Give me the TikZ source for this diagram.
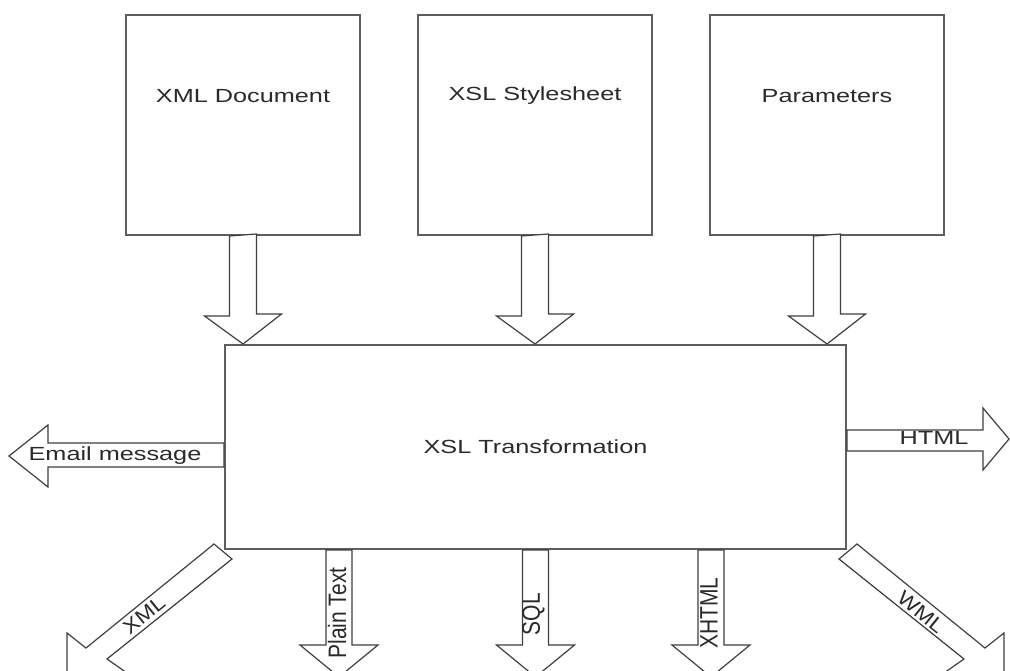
\documentclass[tikz,border=0pt]{standalone}
\usepackage{fontspec}
\setmainfont{Liberation Sans}
\usetikzlibrary{calc}
\definecolor{boxline}{HTML}{5E5E5E}
\definecolor{arrline}{HTML}{404040}
\definecolor{txt}{HTML}{2A2A2A}
\newcommand\myhs[1]{\scalebox{1.33}[1]{#1}}
\newcommand\myvs[1]{\scalebox{1}[1.2]{#1}}
\begin{document}
\begin{tikzpicture}[x=1pt,y=-1pt,
  box/.style={draw=boxline, line width=2pt, fill=white, inner sep=0pt},
  blk/.style={draw=arrline, line width=1.2pt, fill=white, line join=miter},
  lbl/.style={text=txt, font=\fontsize{19}{22}\selectfont, inner sep=0pt},
  vlbl/.style={text=txt, font=\fontsize{21}{24}\selectfont, inner sep=0pt, rotate=90},
  dlbl/.style={text=txt, font=\fontsize{20}{24}\selectfont, inner sep=0pt}]
\useasboundingbox (0,0) rectangle (1010,671);
\clip (0,0) rectangle (1010,671);
\fill[white] (0,0) rectangle (1010,671);

% boxes
\node[box, minimum width=234pt, minimum height=220pt] (xml) at (243,125) {};
\node[box, minimum width=234pt, minimum height=220pt] (xsl) at (535,125) {};
\node[box, minimum width=234pt, minimum height=220pt] (par) at (827,125) {};
\node[box, minimum width=621pt, minimum height=204pt] (main) at (535.5,447) {};

\node[lbl] (xmlt) at ($(xml.north)+(0,82)$) {\myhs{XML Document}};
\node[lbl] (xslt) at ($(xsl.north)+(0,82)$) {\myhs{XSL Stylesheet}};
\node[lbl] (part) at ($(par.north)+(0,82)$) {\myhs{Parameters}};
\node[lbl] (maint) at (main.center) {\myhs{XSL Transformation}};

% input arrows
\foreach \b in {xml,xsl,par}{
  \draw[blk] ($(\b.south)+(-13.5,0)$) -- ++(0,80) -- ++(-25,0)
    -- (\b.south |- main.north) -- ++(38.5,-30) -- ++(-25,0) -- ++(0,-80) -- cycle;
}

% left: Email message
\draw[blk] ($(main.west)+(0,-4)$) -- ++(-176,0) -- ++(0,-18) -- ++(-39,31)
  -- ++(39,31) -- ++(0,-20) -- ++(176,0) -- cycle;
\node[lbl] (emt) at ($(main.west)+(-109,9)$) {\myhs{Email message}};

% right: HTML
\draw[blk] ($(main.east)+(0,-17)$) -- ++(136,0) -- ++(0,-22) -- ++(26,31)
  -- ++(-26,31) -- ++(0,-19) -- ++(-136,0) -- cycle;
\node[lbl] (htt) at ($(main.east)+(87,-9)$) {\myhs{HTML}};

% bottom vertical arrows
\coordinate (ptS) at ($(main.south west)+(115,0)$);
\coordinate (sqS) at (main.south);
\coordinate (xhS) at ($(main.south east)+(-136,0)$);
\foreach \s in {ptS,sqS,xhS}{
  \draw[blk] ($(\s)+(-13,0)$) -- ++(0,95) -- ++(-26,0) -- ++(39,32)
    -- ++(39,-32) -- ++(-26,0) -- ++(0,-95) -- cycle;
}
\node[vlbl] (ptt) at ($(ptS)+(-2,63)$) {\myvs{Plain Text}};
\node[vlbl] (sqt) at ($(sqS)+(-2,64)$) {\myvs{SQL}};
\node[vlbl] (xht) at ($(xhS)+(-2,63)$) {\myvs{XHTML}};

% diagonal arrows
\draw[blk, shift={(main.south west)}] (-10,-6) -- (-138,98) -- (-157,83)
  -- (-157,127) -- (-97,123) -- (-117,109) -- (8,9) -- cycle;
\draw[blk, shift={(main.south east)}] (10,-6) -- (138,98) -- (157,83)
  -- (157,127) -- (97,123) -- (117,109) -- (-8,9) -- cycle;
\node[dlbl, rotate=39] (xmlo) at ($(main.south west)+(-80,65)$) {\scalebox{1.15}[1]{XML}};
\node[dlbl, rotate=-39] (wmlo) at ($(main.south east)+(74,62)$) {\scalebox{1.15}[1]{WML}};
\end{tikzpicture}
\end{document}
